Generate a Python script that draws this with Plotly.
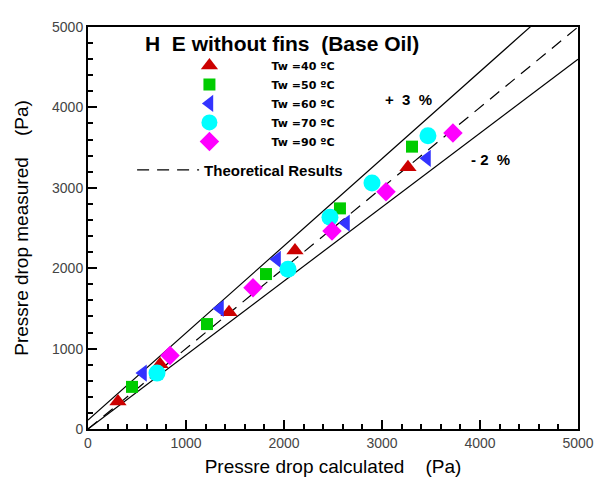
#pressure drop: measured vs calculated, HE without fins (base oil)
import plotly.graph_objects as go
import numpy as np

#calculated (x) and measured (y) pressure drop [Pa]
calc_40 = [306, 735, 1439, 2112, 3265]
meas_40 = [341, 805, 1451, 2220, 3256]
calc_50 = [449, 1214, 1816, 2571, 3306]
meas_50 = [524, 1305, 1927, 2744, 3512]
calc_60 = [561, 1347, 1929, 2633, 3459]
meas_60 = [695, 1500, 2110, 2561, 3366]
calc_70 = [704, 2041, 2469, 2898, 3469]
meas_70 = [695, 1988, 2634, 3061, 3646]
calc_90 = [837, 1684, 2490, 3041, 3724]
meas_90 = [915, 1756, 2463, 2951, 3683]

#band lines y = a*x + b
upper_a, upper_b = 1.084, 110
lower_a, lower_b = 0.92, 0
theo_a, theo_b = 1.0, 0

labels = ['Tw =40 \u00baC', 'Tw =50 \u00baC', 'Tw =60 \u00baC', 'Tw =70 \u00baC', 'Tw =90 \u00baC']
xs = [calc_40, calc_50, calc_60, calc_70, calc_90]
ys = [meas_40, meas_50, meas_60, meas_70, meas_90]
colors = ['#cc0000', '#00cc00', '#3333ff', '#00ffff', '#ff00ff']
symbols = ['triangle-up', 'square', 'triangle-left', 'circle', 'diamond']
sizes = [15, 12, 15, 17, 15]

nb = '\u00a0'

fig = go.Figure()

xl = np.array([0, 5000])
fig.add_trace(go.Scatter(x=xl, y=upper_a*xl+upper_b, mode='lines', showlegend=False,
                         line=dict(color='black', width=1.2)))
fig.add_trace(go.Scatter(x=xl, y=lower_a*xl+lower_b, mode='lines', showlegend=False,
                         line=dict(color='black', width=1.2)))
fig.add_trace(go.Scatter(x=xl, y=theo_a*xl+theo_b, mode='lines', name='<b>Theoretical Results</b>',
                         legend='legend2', line=dict(color='black', width=1.2, dash='12px,8px')))

for i in range(5):
    fig.add_trace(go.Scatter(x=xs[i], y=ys[i], mode='markers',
                             name='<b>' + nb*11 + labels[i] + '</b>',
                             marker=dict(color=colors[i], symbol=symbols[i], size=sizes[i])))

ann = dict(xref='paper', yref='paper', showarrow=False, xanchor='center', yanchor='middle')
fig.add_annotation(text='<b>H' + nb + ' E without fins' + nb + ' (Base Oil)</b>',
                   x=0.396, y=0.959, font=dict(size=21, color='black'), **ann)
fig.add_annotation(text='<b>+' + nb*2 + '3' + nb*2 + '%</b>',
                   x=0.655, y=0.82, font=dict(size=15, color='black'), **ann)
fig.add_annotation(text='<b>-' + nb + '2' + nb*2 + '%</b>',
                   x=0.822, y=0.671, font=dict(size=15, color='black'), **ann)

fig.update_layout(
    width=606, height=480,
    margin=dict(l=80, r=36, t=11, b=59),
    plot_bgcolor='white', paper_bgcolor='white',
    font=dict(family='Arial, Liberation Sans', color='black'),
    legend=dict(x=0.207, y=0.81, xanchor='left', yanchor='middle', bgcolor='rgba(0,0,0,0)',
                font=dict(size=11, family='DejaVu Sans'), itemwidth=30, tracegroupgap=0),
    legend2=dict(x=0.09, y=0.644, xanchor='left', yanchor='middle', bgcolor='rgba(0,0,0,0)',
                 font=dict(size=15), itemwidth=62),
)

fig.update_xaxes(range=[0, 5000], dtick=1000, ticks='inside', ticklen=9, tickwidth=1.5,
                 minor=dict(dtick=200, ticks='inside', ticklen=5, tickcolor='black'),
                 showline=True, linecolor='black', linewidth=2, mirror=True,
                 showgrid=False, zeroline=False, tickcolor='black',
                 tickfont=dict(size=14, color='#444'),
                 title=dict(text='Pressre drop calculated' + nb*4 + '(Pa)',
                            font=dict(size=19), standoff=10))
fig.update_yaxes(range=[0, 5000], dtick=1000, ticks='inside', ticklen=9, tickwidth=1.5,
                 minor=dict(dtick=200, ticks='inside', ticklen=5, tickcolor='black'),
                 showline=True, linecolor='black', linewidth=2, mirror=True,
                 showgrid=False, zeroline=False, tickcolor='black',
                 tickfont=dict(size=14, color='#444'),
                 title=dict(text='Pressre drop measured' + nb*4 + '(Pa)',
                            font=dict(size=19), standoff=18))

fig.write_html("out.html")
